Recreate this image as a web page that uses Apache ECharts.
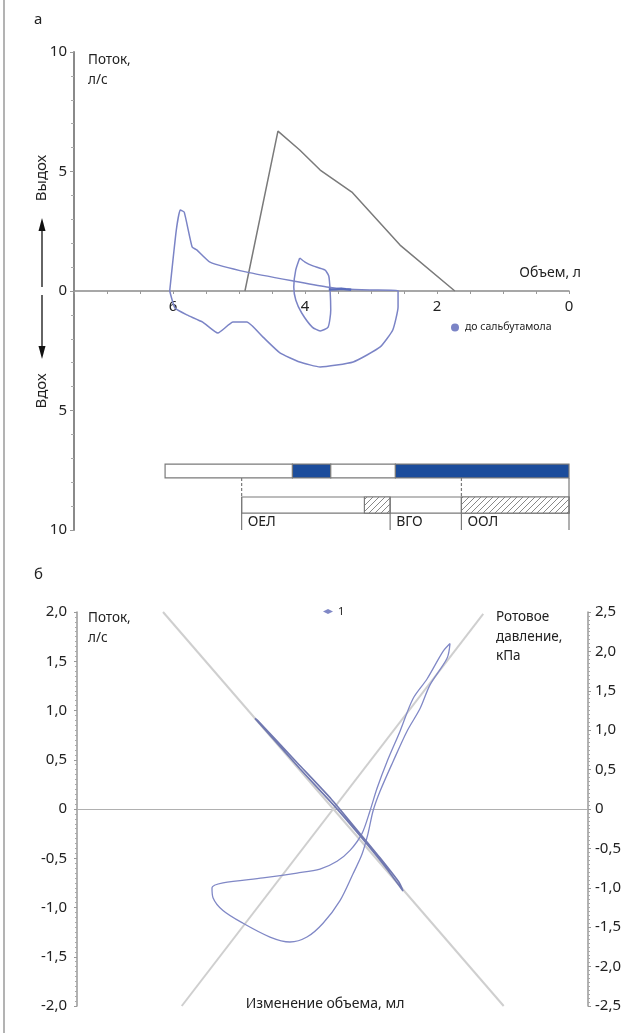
<!DOCTYPE html>
<html>
<head>
<meta charset="utf-8">
<script src="https://cdn.jsdelivr.net/npm/echarts@6/dist/echarts.min.js"></script>
<style>
html,body{margin:0;padding:0;background:#fff;}
#chart{width:635px;height:1033px;}
</style>
</head>
<body>
<div id="chart"></div>
<script>
// ---------- Panel a: flow-volume ----------
const volumeTicks = [0, 2, 4, 6];
const flowTicks = [-10, -5, 0, 5, 10];
// predicted (grey) curve
const predictedVolume = [4.91, 4.41, 4.08, 3.77, 3.29, 2.56, 1.73];
const predictedFlow   = [0, 6.69, 5.90, 5.06, 4.14, 1.92, 0];
// measured loop "до сальбутамола"
const loopVolume = [6.05, 5.95, 5.89, 5.83, 5.71, 5.64, 5.44, 4.88, 4.18, 3.67, 3.39, 3.02, 2.59,
                    2.59, 2.67, 2.86, 3.27, 3.77, 4.08, 4.38, 4.64, 4.88, 5.09, 5.32, 5.55, 5.79, 5.97, 6.05];
const loopFlow   = [0, 2.55, 3.39, 3.30, 1.84, 1.72, 1.21, 0.79, 0.42, 0.17, 0.08, 0.04, 0.02,
                    -0.67, -1.63, -2.34, -2.97, -3.18, -2.97, -2.59, -1.92, -1.30, -1.30, -1.76, -1.30, -1.00, -0.71, 0];
// tidal loop
const tidalVolume = [4.08, 4.00, 3.88, 3.70, 3.64, 3.62, 3.61, 3.65, 3.77, 3.89, 4.05, 4.14, 4.17, 4.14, 4.08];
const tidalFlow   = [1.38, 1.21, 1.05, 0.88, 0.63, 0.04, -0.79, -1.51, -1.67, -1.51, -0.92, -0.38, 0.17, 0.88, 1.38];
// small mark near axis
const blobVolume = [3.64, 3.52, 3.45, 3.38, 3.30];
const blobFlow   = [0.06, 0.07, 0.09, 0.07, 0.05];
// top bar segments (litres)
const barStart  = [6.12, 4.19, 3.61, 2.63];
const barEnd    = [4.19, 3.61, 2.63, 0];
const barFilled = [0, 1, 0, 1];
// lung volumes
const volumeNames  = ['ОЕЛ', 'ВГО', 'ООЛ'];
const volumeValues = [4.96, 2.71, 1.63];
const volumeDashed = [1, 0, 1];
const hatchStart = [3.10, 1.63];
const hatchEnd   = [2.71, 0];

// ---------- Panel б ----------
const flowLoopX = [138, 134.5, 114.5, 102.8, 87.5, 71, 55.8, 47.6, 41.7, 34.6, 24, 8.8, -11.1, -30, -50, -73.4, -105, -128.6, -140.3, -141.5, -128.6, -81.6, -41.7, -14.7, 5.3, 20.6, 34.6, 44, 52.3, 64, 79.3, 94.5, 111, 129.8, 138];
const flowLoopY = [1.68, 1.53, 1.26, 1.02, 0.79, 0.48, 0.18, -0.02, -0.25, -0.46, -0.66, -0.93, -1.16, -1.30, -1.35, -1.30, -1.16, -1.03, -0.90, -0.80, -0.75, -0.70, -0.65, -0.61, -0.53, -0.42, -0.25, -0.02, 0.21, 0.48, 0.79, 1.12, 1.32, 1.60, 1.68];
const pressLoopX = [-91, -38.2, 2.9, 32.3, 61.7, 82.8, 78.1, 55.8, 27.6, -1.8, -41.7, -87.5, -91];
const pressLoopY = [1.15, 0.51, 0.03, -0.34, -0.73, -1.04, -0.93, -0.62, -0.25, 0.13, 0.59, 1.12, 1.15];
const descLineX = [-199, 201];
const descLineY = [2.0, -2.0];
const ascLineX = [-177, 177];
const ascLineY = [-2.0, 1.98];
const leftTicksB = [-2, -1.5, -1, -0.5, 0, 0.5, 1, 1.5, 2];
const rightTicksB = [-2.5, -2, -1.5, -1, -0.5, 0, 0.5, 1, 1.5, 2, 2.5];

const zip = (a, b) => a.map((v, i) => [v, b[i]]);
const FONT = '"Noto Sans", "Open Sans", sans-serif';
const TXT = '#222';

// hatch pattern
const hatch = document.createElement('canvas');
hatch.width = 6; hatch.height = 6;
(function(){
  const c = hatch.getContext('2d');
  c.fillStyle = '#fff'; c.fillRect(0,0,6,6);
  c.strokeStyle = '#888'; c.lineWidth = 1;
  c.beginPath();
  c.moveTo(0,6); c.lineTo(6,0);
  c.moveTo(-1,1); c.lineTo(1,-1);
  c.moveTo(5,7); c.lineTo(7,5);
  c.stroke();
})();

const fmtComma = v => v === 0 ? '0' : v.toFixed(1).replace('.', ',');

const chart = echarts.init(document.getElementById('chart'), null, {renderer: 'canvas'});

const BAR_TOP = -7.24, BAR_BOT = -7.82, ROW_TOP = -8.62, ROW_BOT = -9.29, LAB_BOT = -10, LAB_MID = -9.67;
// grid a: top 52, height 478 -> zero at 291, bottom at 530
const TOP_AXIS_OFFSET = -239;

function txt(x, y, text, size, align, extra) {
  return Object.assign({
    type: 'text', x: x, y: y, silent: true,
    style: {text: text, font: size + 'px ' + FONT, fill: TXT,
            textAlign: align || 'left', align: align || 'left',
            textVerticalAlign: 'middle', verticalAlign: 'middle'}
  }, extra || {});
}

const option = {
  backgroundColor: '#fff',
  animation: false,
  textStyle: {fontFamily: FONT},
  grid: [
    {left: 74, right: 66, top: 52, bottom: 503},
    {left: 77, right: 47, top: 612, bottom: 27}
  ],
  legend: [
    {data: ['до сальбутамола'], left: 446, top: 317, icon: 'circle', itemWidth: 10, itemHeight: 8,
     textStyle: {fontSize: 10.5, color: TXT, fontFamily: FONT}, itemGap: 4},
    {data: ['1'], left: 318, top: 601, icon: 'diamond', itemWidth: 10, itemHeight: 5,
     textStyle: {fontSize: 11, color: TXT, fontFamily: FONT}}
  ],
  xAxis: [
    {gridIndex: 0, type: 'value', min: 0, max: 7.5, interval: 0.5, inverse: true,
     position: 'bottom', offset: TOP_AXIS_OFFSET,
     axisLine: {onZero: false, lineStyle: {color: '#8a8a8a', width: 1.5}},
     axisTick: {show: true, length: 3, inside: false, lineStyle: {color: '#999'}},
     axisLabel: {interval: 0, margin: 8, fontSize: 15, color: TXT, fontFamily: FONT,
                 formatter: v => (volumeTicks.indexOf(v) >= 0 ? String(v) : '')},
     splitLine: {show: false}},
    {gridIndex: 1, type: 'value', min: -300, max: 300,
     axisLine: {onZero: true, lineStyle: {color: '#b0b0b0', width: 1}},
     axisTick: {show: false}, axisLabel: {show: false}, splitLine: {show: false}}
  ],
  yAxis: [
    {gridIndex: 0, type: 'value', min: -10, max: 10, interval: 5,
     axisLine: {show: true, onZero: false, lineStyle: {color: '#8a8a8a', width: 2}},
     axisTick: {show: true, length: 4, lineStyle: {color: '#999'}},
     minorTick: {show: true, splitNumber: 5, length: 3, lineStyle: {color: '#aaa'}},
     axisLabel: {margin: 7, fontSize: 15, color: TXT, fontFamily: FONT,
                 formatter: v => (flowTicks.indexOf(v) >= 0 ? String(Math.abs(v)) : '')},
     splitLine: {show: false}},
    {gridIndex: 1, type: 'value', min: -2, max: 2, interval: 0.5, position: 'left',
     axisLine: {show: true, onZero: false, lineStyle: {color: '#999', width: 1.5}},
     axisTick: {show: true, length: 3, lineStyle: {color: '#999'}},
     minorTick: {show: true, splitNumber: 10, length: 2, lineStyle: {color: '#aaa'}},
     axisLabel: {margin: 10, fontSize: 15, color: TXT, fontFamily: FONT,
                 formatter: v => (leftTicksB.indexOf(v) >= 0 ? fmtComma(v) : '')},
     splitLine: {show: false}},
    {gridIndex: 1, type: 'value', min: -2.5, max: 2.5, interval: 0.5, position: 'right',
     axisLine: {show: true, onZero: false, lineStyle: {color: '#999', width: 1.5}},
     axisTick: {show: true, length: 3, lineStyle: {color: '#999'}},
     minorTick: {show: true, splitNumber: 10, length: 2, lineStyle: {color: '#aaa'}},
     axisLabel: {margin: 7, fontSize: 15, color: TXT, fontFamily: FONT,
                 formatter: v => (rightTicksB.indexOf(v) >= 0 ? fmtComma(v) : '')},
     splitLine: {show: false}}
  ],
  series: [
    {name: 'predicted', type: 'line', xAxisIndex: 0, yAxisIndex: 0, data: zip(predictedVolume, predictedFlow),
     showSymbol: false, lineStyle: {color: '#7a7a7a', width: 1.5}, z: 3},
    {name: 'до сальбутамола', type: 'line', xAxisIndex: 0, yAxisIndex: 0, data: zip(loopVolume, loopFlow),
     symbol: 'circle', showSymbol: false, smooth: 0.15, color: '#7b84c6',
     lineStyle: {color: '#7b84c6', width: 1.5}, z: 4},
    {name: 'tidal', type: 'line', xAxisIndex: 0, yAxisIndex: 0, data: zip(tidalVolume, tidalFlow),
     showSymbol: false, smooth: 0.2, lineStyle: {color: '#7b84c6', width: 1.5}, z: 4},
    {name: 'blob', type: 'line', xAxisIndex: 0, yAxisIndex: 0, data: zip(blobVolume, blobFlow),
     showSymbol: false, lineStyle: {color: '#5a6cbc', width: 2.5}, z: 5},
    // top bar
    {name: 'bar', type: 'custom', xAxisIndex: 0, yAxisIndex: 0, z: 6,
     data: barStart.map((s, i) => [s, barEnd[i], barFilled[i]]),
     renderItem: (params, api) => {
       const p1 = api.coord([api.value(0), BAR_TOP]);
       const p2 = api.coord([api.value(1), BAR_BOT]);
       return {type: 'rect', shape: {x: p1[0], y: p1[1], width: p2[0] - p1[0], height: p2[1] - p1[1]},
               style: {fill: api.value(2) ? '#1c4d9c' : '#ffffff', stroke: '#7a7a7a', lineWidth: 1.2}};
     }},
    // lung volumes row outline + hatches + dividers + labels
    {name: 'row', type: 'custom', xAxisIndex: 0, yAxisIndex: 0, z: 6,
     data: [[volumeValues[0], 0]],
     renderItem: (params, api) => {
       const p1 = api.coord([api.value(0), ROW_TOP]);
       const p2 = api.coord([api.value(1), ROW_BOT]);
       return {type: 'rect', shape: {x: p1[0], y: p1[1], width: p2[0] - p1[0], height: p2[1] - p1[1]},
               style: {fill: '#fff', stroke: '#7a7a7a', lineWidth: 1.2}};
     }},
    {name: 'hatch', type: 'custom', xAxisIndex: 0, yAxisIndex: 0, z: 7,
     data: hatchStart.map((s, i) => [s, hatchEnd[i]]),
     renderItem: (params, api) => {
       const p1 = api.coord([api.value(0), ROW_TOP]);
       const p2 = api.coord([api.value(1), ROW_BOT]);
       return {type: 'rect', shape: {x: p1[0], y: p1[1], width: p2[0] - p1[0], height: p2[1] - p1[1]},
               style: {fill: {image: hatch, repeat: 'repeat'}, stroke: '#7a7a7a', lineWidth: 1.2}};
     }},
    {name: 'volumes', type: 'custom', xAxisIndex: 0, yAxisIndex: 0, z: 8,
     data: volumeValues.map((v, i) => [v, volumeDashed[i], i]),
     renderItem: (params, api) => {
       const v = api.value(0);
       const a = api.coord([v, BAR_BOT]);
       const b = api.coord([v, ROW_TOP]);
       const c = api.coord([v, LAB_BOT]);
       const m = api.coord([v, LAB_MID]);
       const children = [
         {type: 'line', shape: {x1: b[0], y1: b[1], x2: c[0], y2: c[1]}, style: {stroke: '#7a7a7a', lineWidth: 1.2}},
         {type: 'text', x: m[0] + 6, y: m[1],
          style: {text: volumeNames[api.value(2)], font: '14px ' + FONT, fill: TXT,
                  textAlign: 'left', align: 'left', textVerticalAlign: 'middle', verticalAlign: 'middle'}}
       ];
       if (api.value(1)) {
         children.push({type: 'line', shape: {x1: a[0], y1: a[1], x2: b[0], y2: b[1]},
                        style: {stroke: '#7a7a7a', lineWidth: 1.2, lineDash: [3, 2]}});
       }
       return {type: 'group', children: children};
     }},
    {name: 'rightEdge', type: 'custom', xAxisIndex: 0, yAxisIndex: 0, z: 8,
     data: [[0]],
     renderItem: (params, api) => {
       const a = api.coord([api.value(0), BAR_BOT]);
       const c = api.coord([api.value(0), LAB_BOT]);
       return {type: 'line', shape: {x1: a[0], y1: a[1], x2: c[0], y2: c[1]}, style: {stroke: '#7a7a7a', lineWidth: 1.2}};
     }},
    // panel б
    {name: 'desc', type: 'line', xAxisIndex: 1, yAxisIndex: 1, data: zip(descLineX, descLineY),
     showSymbol: false, lineStyle: {color: '#cfcfcf', width: 2}, z: 2},
    {name: 'asc', type: 'line', xAxisIndex: 1, yAxisIndex: 1, data: zip(ascLineX, ascLineY),
     showSymbol: false, lineStyle: {color: '#cfcfcf', width: 2}, z: 2},
    {name: '1', type: 'line', xAxisIndex: 1, yAxisIndex: 1, data: zip(flowLoopX, flowLoopY),
     symbol: 'diamond', showSymbol: false, smooth: 0.3, color: '#8088c6',
     lineStyle: {color: '#8088c6', width: 1.3}, z: 4},
    {name: 'pressure', type: 'line', xAxisIndex: 1, yAxisIndex: 2, data: zip(pressLoopX, pressLoopY),
     showSymbol: false, smooth: 0.2, lineStyle: {color: '#7078b0', width: 1.6}, z: 4}
  ],
  graphic: [
    {type: 'line', silent: true, shape: {x1: 4, y1: 0, x2: 4, y2: 1033}, style: {stroke: '#9a9a9a', lineWidth: 1.5}},
    txt(34, 20, 'а', 15),
    txt(88, 60, 'Поток,', 13.5),
    txt(88, 80, 'л/с', 13.5),
    txt(581, 273, 'Объем, л', 14, 'right'),
    txt(42, 178, 'Выдох', 15, 'center', {rotation: Math.PI / 2}),
    txt(42, 391, 'Вдох', 15, 'center', {rotation: Math.PI / 2}),
    {type: 'line', silent: true, shape: {x1: 42, y1: 287, x2: 42, y2: 228}, style: {stroke: '#111', lineWidth: 1.3}},
    {type: 'polygon', silent: true, shape: {points: [[42, 218], [38.5, 231], [45.5, 231]]}, style: {fill: '#111'}},
    {type: 'line', silent: true, shape: {x1: 42, y1: 295, x2: 42, y2: 349}, style: {stroke: '#111', lineWidth: 1.3}},
    {type: 'polygon', silent: true, shape: {points: [[42, 359], [38.5, 346], [45.5, 346]]}, style: {fill: '#111'}},
    txt(34, 575, 'б', 15),
    txt(88, 618, 'Поток,', 13.5),
    txt(88, 638, 'л/с', 13.5),
    txt(496, 617, 'Ротовое', 13.5),
    txt(496, 637, 'давление,', 13.5),
    txt(496, 656, 'кПа', 13.5),
    txt(325, 1004, 'Изменение объема, мл', 14, 'center')
  ]
};
chart.setOption(option);
</script>
</body>
</html>
